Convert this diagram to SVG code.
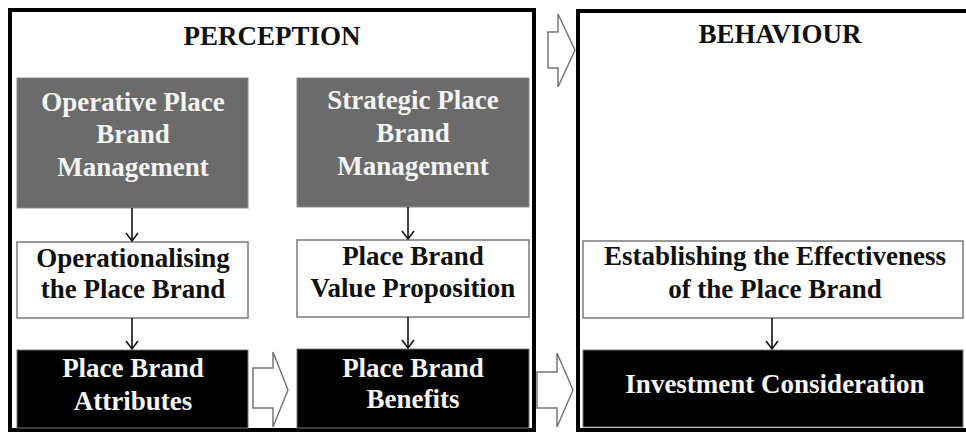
<svg xmlns="http://www.w3.org/2000/svg" width="966" height="432" viewBox="0 0 966 432">
<style>
text{font-family:"Liberation Serif","Times New Roman",serif;font-weight:bold;text-anchor:middle;font-size:27px}
.title{fill:#111;font-size:27px}
.gray rect{fill:#6b6b6b;stroke:#8a8a8a;stroke-width:1}
.gray text{fill:#f4f4f4}
.white rect{fill:#fff;stroke:#7a7a7a;stroke-width:1.5}
.white text{fill:#111}
.black rect{fill:#000;stroke:#777;stroke-width:1}
.black text{fill:#f4f4f4}
.frame{fill:none;stroke:#000;stroke-width:4}
.block{fill:#fff;stroke:#777;stroke-width:1.5;stroke-linejoin:miter}
.conn{stroke:#111;stroke-width:1.6;fill:none}
</style>
<defs>
<marker id="chev" markerUnits="userSpaceOnUse" markerWidth="12" markerHeight="16" refX="10" refY="7" orient="auto" viewBox="0 0 12 14">
<path d="M2,1 L10,7 L2,13" fill="none" stroke="#111" stroke-width="1.6"/>
</marker>
</defs>
<rect width="966" height="432" fill="#fff"/>
<g id="perception">
<rect class="frame" x="10" y="10" width="524" height="420"/>
<text class="title" x="272" y="45">PERCEPTION</text>
</g>
<g id="behaviour">
<rect class="frame" x="578" y="11" width="400" height="419"/>
<text class="title" x="780" y="43">BEHAVIOUR</text>
</g>
<g id="operative" class="gray">
<rect x="17" y="78" width="231" height="130"/>
<text x="133" y="111">Operative Place</text>
<text x="133" y="143">Brand</text>
<text x="133" y="176">Management</text>
</g>
<g id="strategic" class="gray">
<rect x="297" y="78" width="232" height="129"/>
<text x="413" y="109">Strategic Place</text>
<text x="413" y="142">Brand</text>
<text x="413" y="175">Management</text>
</g>
<g id="operationalising" class="white">
<rect x="17" y="242" width="231" height="76"/>
<text x="133" y="267">Operationalising</text>
<text x="133" y="298">the Place Brand</text>
</g>
<g id="valueprop" class="white">
<rect x="297" y="240" width="232" height="77"/>
<text x="413" y="265">Place Brand</text>
<text x="413" y="297">Value Proposition</text>
</g>
<g id="establishing" class="white">
<rect x="583" y="241" width="380" height="77"/>
<text x="775" y="265">Establishing the Effectiveness</text>
<text x="775" y="298">of the Place Brand</text>
</g>
<g id="attributes" class="black">
<rect x="17" y="350" width="231" height="78"/>
<text x="133" y="377">Place Brand</text>
<text x="133" y="410">Attributes</text>
</g>
<g id="benefits" class="black">
<rect x="297" y="349" width="232" height="79"/>
<text x="413" y="377">Place Brand</text>
<text x="413" y="408">Benefits</text>
</g>
<g id="investment" class="black">
<rect x="583" y="350" width="380" height="77"/>
<text x="775" y="393">Investment Consideration</text>
</g>
<g id="connectors">
<line class="conn" x1="132" y1="208" x2="132" y2="241" marker-end="url(#chev)"/>
<line class="conn" x1="132" y1="318" x2="132" y2="349" marker-end="url(#chev)"/>
<line class="conn" x1="408" y1="207" x2="408" y2="239" marker-end="url(#chev)"/>
<line class="conn" x1="408" y1="317" x2="408" y2="348" marker-end="url(#chev)"/>
<line class="conn" x1="772" y1="318" x2="772" y2="349" marker-end="url(#chev)"/>
<polygon class="block" points="548,32 558,32 558,14 575,50 558,87 558,68 548,68"/>
<polygon class="block" points="253,368 273,368 273,352 288,390 273,427 273,408 253,408"/>
<polygon class="block" points="537,372 557,372 557,353 573,390 557,427 557,408 537,408"/>
</g>
</svg>
